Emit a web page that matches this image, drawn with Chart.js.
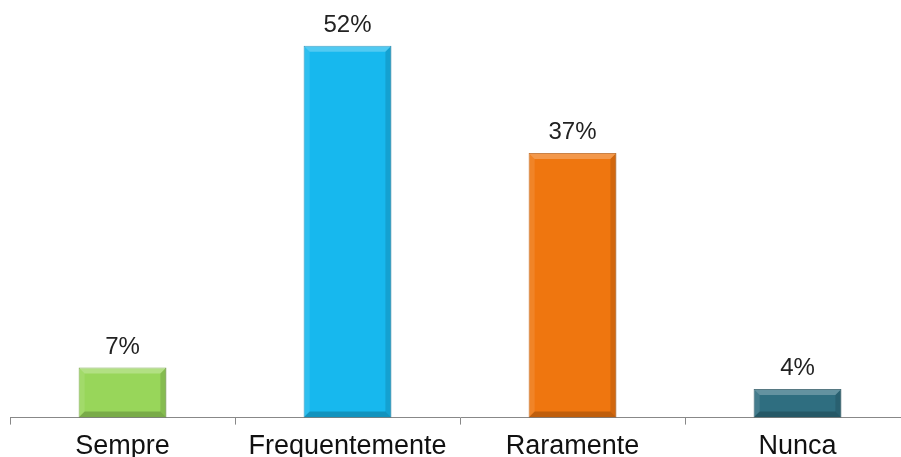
<!DOCTYPE html>
<html>
<head>
<meta charset="utf-8">
<script src="https://cdn.jsdelivr.net/npm/chart.js@4/dist/chart.umd.min.js"></script>
<style>
  html, body { margin: 0; padding: 0; overflow: hidden; background: #fff; }
  #wrap { width: 901px; height: 457px; overflow: hidden; }
</style>
</head>
<body>
<div id="wrap"><canvas id="bar_chart" width="920" height="471"></canvas></div>
<script>
const categorias = ["Sempre", "Frequentemente", "Raramente", "Nunca"];
const porcentajes = [7, 52, 37, 4];
const colores = ["#98d65a", "#17b8ee", "#ef760f", "#2f6e80"];
const bordes = ["#6f9e3c", "#0f88b5", "#b8590a", "#1f4d5a"];

// bevel del estilo de Excel
const bisel = {
  id: "bisel",
  afterDatasetsDraw(chart) {
    const ctx = chart.ctx;
    chart.getDatasetMeta(0).data.forEach((bar) => {
      const w = bar.width, x0 = bar.x - w / 2, x1 = bar.x + w / 2;
      const y0 = bar.y, y1 = bar.base;
      const b = Math.min(6, (y1 - y0) / 2);
      ctx.save();
      const pieza = (pts, color) => {
        ctx.beginPath();
        ctx.moveTo(pts[0][0], pts[0][1]);
        pts.slice(1).forEach((p) => ctx.lineTo(p[0], p[1]));
        ctx.closePath();
        ctx.fillStyle = color;
        ctx.fill();
      };
      pieza([[x0, y0], [x1, y0], [x1 - b, y0 + b], [x0 + b, y0 + b]], "rgba(255,255,255,0.25)");
      pieza([[x0, y0], [x0 + b, y0 + b], [x0 + b, y1 - b], [x0, y1]], "rgba(255,255,255,0.10)");
      pieza([[x1, y0], [x1, y1], [x1 - b, y1 - b], [x1 - b, y0 + b]], "rgba(0,0,0,0.12)");
      pieza([[x0, y1], [x0 + b, y1 - b], [x1 - b, y1 - b], [x1, y1]], "rgba(0,0,0,0.20)");
      ctx.restore();
    });
  }
};

// etiquetas de porcentaje encima de cada barra
const etiquetas = {
  id: "etiquetas",
  afterDatasetsDraw(chart) {
    const ctx = chart.ctx;
    ctx.save();
    ctx.font = "24px 'Liberation Sans', Arial, sans-serif";
    ctx.fillStyle = "#222";
    ctx.textAlign = "center";
    ctx.textBaseline = "alphabetic";
    chart.getDatasetMeta(0).data.forEach((bar, i) => {
      ctx.fillText(porcentajes[i] + "%", bar.x, bar.y - 14);
    });
    ctx.restore();
  }
};

const ctx = document.getElementById("bar_chart").getContext("2d");
const chart = new Chart(ctx, {
  type: "bar",
  data: {
    labels: categorias,
    datasets: [
      {
        data: porcentajes,
        backgroundColor: colores,
        borderColor: bordes,
        borderWidth: 1,
        barPercentage: 0.39,
        categoryPercentage: 1
      }
    ]
  },
  options: {
    responsive: false,
    animation: false,
    layout: { padding: { left: 10, right: 10, top: 10, bottom: 2 } },
    plugins: {
      legend: { display: false },
      tooltip: { enabled: false }
    },
    scales: {
      x: {
        grid: {
          offset: true,
          drawOnChartArea: false,
          drawTicks: true,
          tickLength: 7,
          tickColor: "#888",
          color: "#888"
        },
        border: { display: true, color: "#888", width: 1 },
        ticks: {
          padding: 6,
          color: "#111",
          font: { family: "'Liberation Sans', Arial, sans-serif", size: 27 }
        }
      },
      y: {
        display: false,
        min: 0,
        max: 57
      }
    }
  },
  plugins: [bisel, etiquetas]
});
</script>
</body>
</html>
